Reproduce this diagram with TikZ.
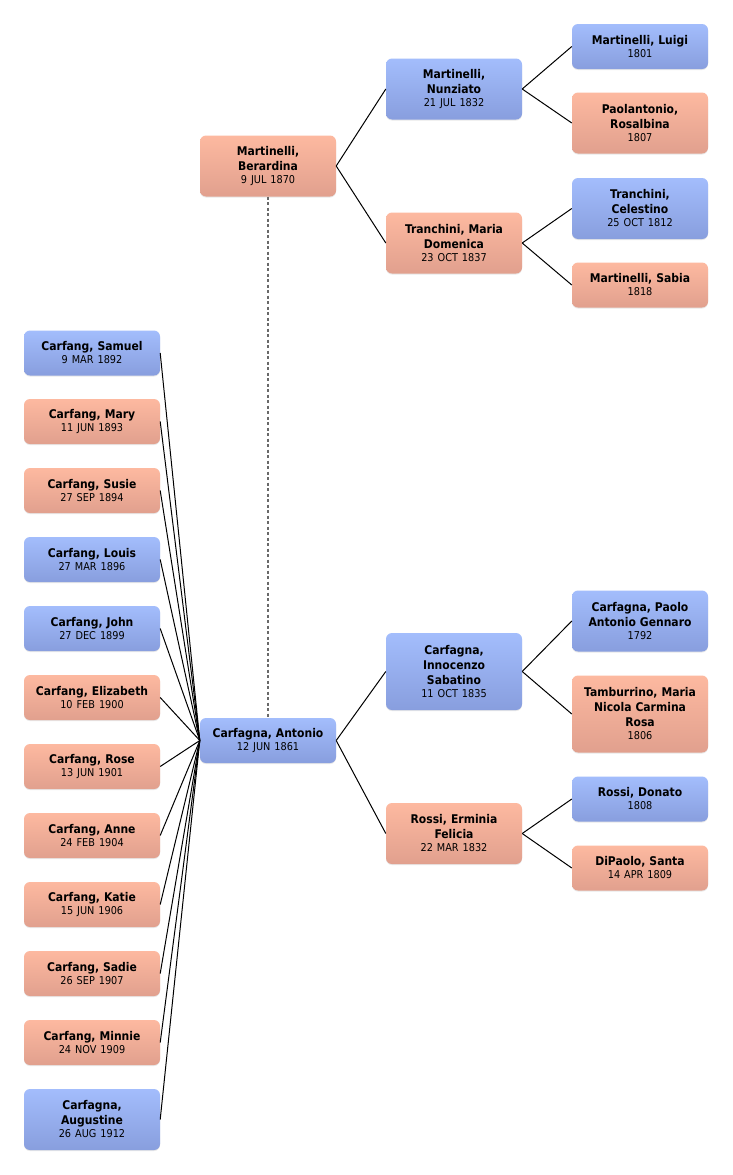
\documentclass[tikz,border=0pt]{standalone}
\usepackage{fontspec}
\setmainfont{DejaVu Sans Condensed}
\usetikzlibrary{shadows}
\definecolor{bluetop}{RGB}{163,189,252}
\definecolor{bluebot}{RGB}{136,158,222}
\definecolor{pinktop}{RGB}{253,185,160}
\definecolor{pinkbot}{RGB}{225,160,142}
\definecolor{dashgray}{RGB}{105,105,105}
\tikzset{
  person/.style={rounded corners=6pt, minimum width=136pt, text width=132pt, align=center,
    inner sep=0pt, drop shadow={shadow xshift=0pt, shadow yshift=-1pt, opacity=0.18},
    font=\fontsize{12}{15}\selectfont\bfseries},
  male/.style={person, top color=bluetop, bottom color=bluebot},
  female/.style={person, top color=pinktop, bottom color=pinkbot},
  htwo/.style={minimum height=45pt},
  hthree/.style={minimum height=61pt},
  hfour/.style={minimum height=77pt},
  link/.style={draw=black, line width=1pt},
  spouse/.style={draw=dashgray, line width=1.8pt, dash pattern=on 3pt off 2.5pt}
}
\newcommand{\dt}[1]{\\[-2pt]{\fontsize{10.8}{15}\selectfont\mdseries #1}}
\begin{document}
\begin{tikzpicture}[x=1pt,y=-1pt]
\fill[white] (0,0) rectangle (732,1175);
\useasboundingbox (0,0) rectangle (732,1175);
% children
\node[male,htwo] (samuel) at (92,353) {Carfang, Samuel\dt{9 MAR 1892}};
\node[female,htwo] (mary) at (92,421.5) {Carfang, Mary\dt{11 JUN 1893}};
\node[female,htwo] (susie) at (92,490.5) {Carfang, Susie\dt{27 SEP 1894}};
\node[male,htwo] (louis) at (92,559.5) {Carfang, Louis\dt{27 MAR 1896}};
\node[male,htwo] (john) at (92,628.5) {Carfang, John\dt{27 DEC 1899}};
\node[female,htwo] (elizabeth) at (92,697.5) {Carfang, Elizabeth\dt{10 FEB 1900}};
\node[female,htwo] (rose) at (92,766.5) {Carfang, Rose\dt{13 JUN 1901}};
\node[female,htwo] (anne) at (92,835.5) {Carfang, Anne\dt{24 FEB 1904}};
\node[female,htwo] (katie) at (92,904.5) {Carfang, Katie\dt{15 JUN 1906}};
\node[female,htwo] (sadie) at (92,973.5) {Carfang, Sadie\dt{26 SEP 1907}};
\node[female,htwo] (minnie) at (92,1042.5) {Carfang, Minnie\dt{24 NOV 1909}};
\node[male,hthree] (augustine) at (92,1119.5) {Carfagna,\\Augustine\dt{26 AUG 1912}};
% couple
\node[male,htwo] (antonio) at (268,740.5) {Carfagna, Antonio\dt{12 JUN 1861}};
\node[female,hthree] (berardina) at (268,166) {Martinelli,\\Berardina\dt{9 JUL 1870}};
% Berardina's ancestors
\node[male,hthree] (nunziato) at (454,89) {Martinelli,\\Nunziato\dt{21 JUL 1832}};
\node[female,hthree] (tranchini) at (454,243) {Tranchini, Maria\\Domenica\dt{23 OCT 1837}};
\node[male,htwo] (luigi) at (640,46.5) {Martinelli, Luigi\dt{1801}};
\node[female,hthree] (paolantonio) at (640,123) {Paolantonio,\\Rosalbina\dt{1807}};
\node[male,hthree] (celestino) at (640,208.5) {Tranchini,\\Celestino\dt{25 OCT 1812}};
\node[female,htwo] (sabia) at (640,285) {Martinelli, Sabia\dt{1818}};
% Antonio's ancestors
\node[male,hfour] (innocenzo) at (454,671.5) {Carfagna,\\Innocenzo\\Sabatino\dt{11 OCT 1835}};
\node[female,hthree] (erminia) at (454,833.5) {Rossi, Erminia\\Felicia\dt{22 MAR 1832}};
\node[male,hthree] (paolo) at (640,621) {Carfagna, Paolo\\Antonio Gennaro\dt{1792}};
\node[female,hfour] (tamburrino) at (640,714) {Tamburrino, Maria\\Nicola Carmina\\Rosa\dt{1806}};
\node[male,htwo] (donato) at (640,799) {Rossi, Donato\dt{1808}};
\node[female,htwo] (dipaolo) at (640,868) {DiPaolo, Santa\dt{14 APR 1809}};
% connectors
\foreach \c in {samuel,mary,susie,louis,john,elizabeth,rose,anne,katie,sadie,minnie,augustine}
  \draw[link] (\c.east) -- (antonio.west);
\draw[spouse] (berardina.south) -- (antonio.north);
\draw[link] (berardina.east) -- (nunziato.west);
\draw[link] (berardina.east) -- (tranchini.west);
\draw[link] (nunziato.east) -- (luigi.west);
\draw[link] (nunziato.east) -- (paolantonio.west);
\draw[link] (tranchini.east) -- (celestino.west);
\draw[link] (tranchini.east) -- (sabia.west);
\draw[link] (antonio.east) -- (innocenzo.west);
\draw[link] (antonio.east) -- (erminia.west);
\draw[link] (innocenzo.east) -- (paolo.west);
\draw[link] (innocenzo.east) -- (tamburrino.west);
\draw[link] (erminia.east) -- (donato.west);
\draw[link] (erminia.east) -- (dipaolo.west);
\end{tikzpicture}
\end{document}
